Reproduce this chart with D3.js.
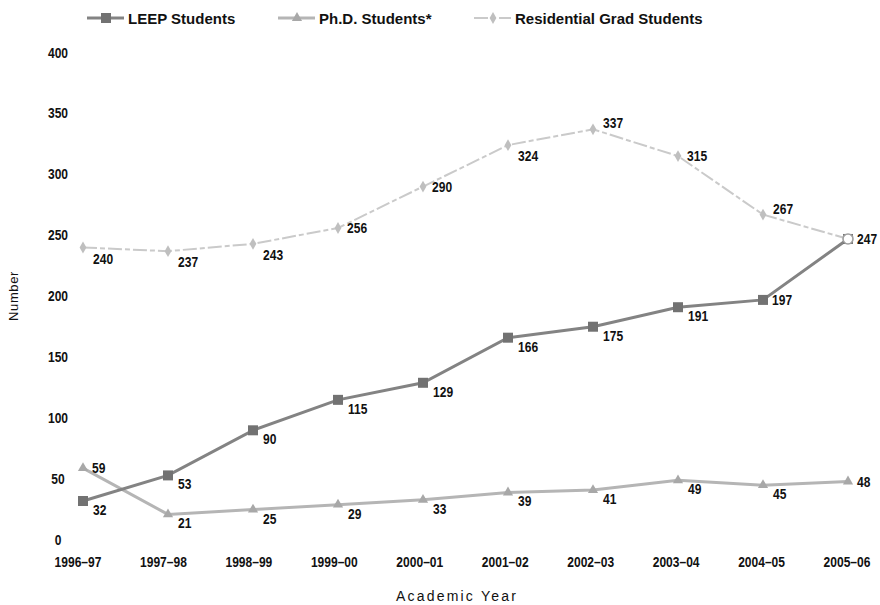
<!DOCTYPE html>
<html>
<head>
<meta charset="utf-8">
<script src="https://cdn.jsdelivr.net/npm/d3@7"></script>
<style>
  html, body { margin: 0; padding: 0; background: #ffffff; }
  svg { display: block; }
  .num { font-family: "Liberation Sans", Arial, sans-serif; font-weight: bold; font-size: 14px; fill: #111; }
  .leg { font-family: "Liberation Sans", Arial, sans-serif; font-weight: bold; font-size: 15px; fill: #111; }
  .title { font-family: "Liberation Sans", Arial, sans-serif; font-size: 14px; fill: #111; letter-spacing: 2.2px; }
  .ytitle { font-family: "Liberation Sans", Arial, sans-serif; font-size: 13px; fill: #111; letter-spacing: 0.6px; }
</style>
</head>
<body>
<script>
// ---- data ----
const years = ["1996–97","1997–98","1998–99","1999–00","2000–01","2001–02","2002–03","2003–04","2004–05","2005–06"];
const leepStudents = [32, 53, 90, 115, 129, 166, 175, 191, 197, 247];
const phdStudents = [59, 21, 25, 29, 33, 39, 41, 49, 45, 48];
const residentialGrad = [240, 237, 243, 256, 290, 324, 337, 315, 267, 247];
const yTicks = [0, 50, 100, 150, 200, 250, 300, 350, 400];
const seriesNames = ["LEEP Students", "Ph.D. Students*", "Residential Grad Students"];

// ---- layout / style ----
const W = 880, H = 605;
const svg = d3.select("body").append("svg").attr("width", W).attr("height", H);

const x = d3.scalePoint().domain(years).range([83, 848]);
const xLab = d3.scalePoint().domain(years).range([78, 847]);
const y = d3.scaleLinear().domain([0, 400]).range([540, 52.5]);
const SX = 0.86; // condensed look for numbers

// label placements: br = below-right, r = right, ar = above-right, none
const place = {
  leep: ["br","br","br","br","br","br","br","br","r","none"],
  phd:  ["r","br","br","br","br","br","br","br","br","r"],
  res:  ["br","br","br","r","r","br","ar","r","ar","r"]
};

const styles = [
  { key: "leep", data: leepStudents, line: "#838383", width: 3, marker: "square", mfill: "#727272", dash: null },
  { key: "phd", data: phdStudents, line: "#b5b5b5", width: 3, marker: "triangle", mfill: "#a8a8a8", dash: null },
  { key: "res", data: residentialGrad, line: "#cacaca", width: 2, marker: "diamond", mfill: "#bfbfbf", dash: "14,3,5,3" }
];

function numText(g, tx, ty, txt, anchor) {
  return g.append("text").attr("class", "num")
    .attr("transform", `translate(${tx},${ty}) scale(${SX},1)`)
    .attr("text-anchor", anchor || "start")
    .text(txt);
}

// y tick labels
const gy = svg.append("g");
yTicks.forEach(d => numText(gy, 58, y(d) + 5, d, "middle"));

// x tick labels
const gx = svg.append("g");
years.forEach(d => numText(gx, xLab(d), 567, d, "middle"));

// axis titles
svg.append("text").attr("class", "title")
  .attr("x", 457).attr("y", 601).attr("text-anchor", "middle")
  .text("Academic Year");
svg.append("text").attr("class", "ytitle")
  .attr("transform", "translate(18,296) rotate(-90)")
  .attr("text-anchor", "middle")
  .text("Number");

function drawMarker(g, type, cx, cy, fill, ring) {
  if (ring) {
    g.append("circle").attr("cx", cx).attr("cy", cy).attr("r", 5).attr("fill", "#fff").attr("stroke", "#a0a0a0").attr("stroke-width", 1.6);
  } else if (type === "square") {
    g.append("rect").attr("x", cx - 5).attr("y", cy - 5).attr("width", 10).attr("height", 10).attr("fill", fill);
  } else if (type === "triangle") {
    const s = d3.symbol().type(d3.symbolTriangle).size(45);
    g.append("path").attr("d", s()).attr("transform", `translate(${cx},${cy})`).attr("fill", fill);
  } else if (type === "diamond") {
    const s = d3.symbol().type(d3.symbolDiamond).size(40);
    g.append("path").attr("d", s()).attr("transform", `translate(${cx},${cy})`).attr("fill", fill);
  }
}

const order = [2, 1, 0];
const gLines = svg.append("g"), gMarks = svg.append("g"), gTop = svg.append("g"), gLabels = svg.append("g");
order.forEach(i => {
  const s = styles[i];
  const line = d3.line().x((d, j) => x(years[j])).y(d => y(d));
  gLines.append("path").datum(s.data)
    .attr("d", line)
    .attr("fill", "none")
    .attr("stroke", s.line)
    .attr("stroke-width", s.width)
    .attr("stroke-dasharray", s.dash);
});
order.forEach(i => {
  const s = styles[i];
  s.data.forEach((v, j) => {
    const isLastRes = s.key === "res" && j === s.data.length - 1;
    drawMarker(isLastRes ? gTop : gMarks, s.marker, x(years[j]), y(v), s.mfill, isLastRes);
  });
  s.data.forEach((v, j) => {
    const p = place[s.key][j];
    if (p === "none") return;
    const cx = x(years[j]), cy = y(v);
    let tx = cx + 10, ty = cy + 14;
    if (p === "r") { tx = cx + 9; ty = cy + 5; }
    if (p === "ar") { tx = cx + 10; ty = cy - 1; }
    if (p === "br" && s.key === "res") { ty = cy + 16; }
    numText(gLabels, tx, ty, v);
  });
});

// legend
const legX = [87, 278, 474];
seriesNames.forEach((name, i) => {
  const s = styles[i];
  const g = svg.append("g");
  g.append("line").attr("x1", legX[i]).attr("x2", legX[i] + 37).attr("y1", 18).attr("y2", 18)
    .attr("stroke", s.line).attr("stroke-width", s.width).attr("stroke-dasharray", s.dash);
  drawMarker(g, s.marker, legX[i] + 19, 18, s.mfill, false);
  g.append("text").attr("class", "leg").attr("x", legX[i] + 41).attr("y", 24).text(name);
});
</script>
</body>
</html>
